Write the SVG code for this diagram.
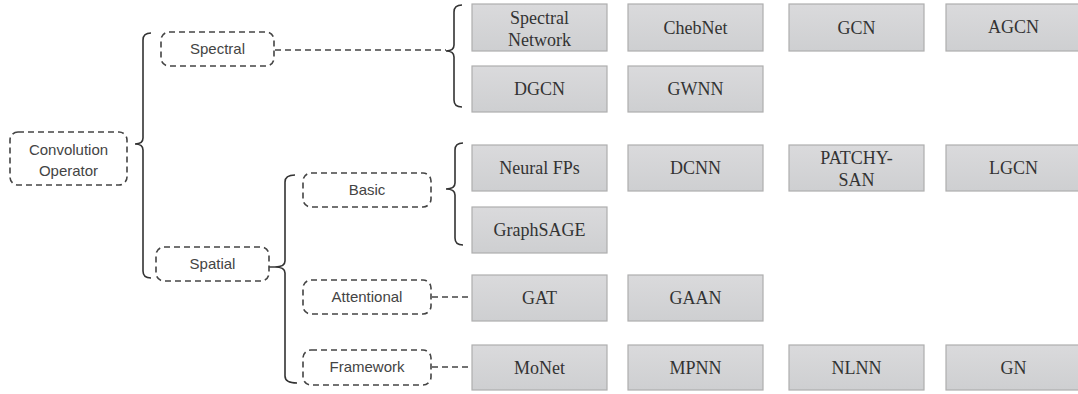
<svg xmlns="http://www.w3.org/2000/svg" width="1078" height="394" viewBox="0 0 1078 394">
  <defs>
    <linearGradient id="boxFill" x1="0" y1="0" x2="0" y2="1">
      <stop offset="0" stop-color="#dadadc"/>
      <stop offset="1" stop-color="#cecfd1"/>
    </linearGradient>
    <style>
      .cat { fill: none; stroke: #444; stroke-width: 1.6; stroke-dasharray: 6 4; }
      .cat-text { font-family: "Liberation Sans", Arial, sans-serif; font-size: 15px; fill: #444; text-anchor: middle; }
      .model { fill: url(#boxFill); stroke: #aeaeae; stroke-width: 1.2; }
      .model-text { font-family: "Liberation Serif", "Times New Roman", serif; font-size: 18px; fill: #333; text-anchor: middle; }
      .brace { fill: none; stroke: #333; stroke-width: 1.6; }
      .link { fill: none; stroke: #444; stroke-width: 1.6; stroke-dasharray: 6 4; }
    </style>
  </defs>
  <rect width="1078" height="394" fill="#fff"/>

  <!-- braces and dashed links -->
  <g id="connectors">
    <path class="brace" d="M151,33 Q143,33 143,40 L143,138 Q143,144 135,144 Q143,144 143,150 L143,271 Q143,278 151,278"/>
    <path class="brace" d="M462,5 Q454,5 454,12 L454,45 Q454,51 446,51 Q454,51 454,57 L454,100 Q454,107 462,107"/>
    <path class="brace" d="M295,175 Q285,175 285,182 L285,261 Q285,267 275,267 Q285,267 285,273 L285,376 Q285,383 297,383"/>
    <path class="brace" d="M463,143 Q455,143 455,150 L455,183 Q455,189 446,189 Q455,189 455,195 L455,238 Q455,245 463,245"/>
    <line class="link" x1="275" y1="50" x2="446" y2="50"/>
    <line class="link" x1="269" y1="267" x2="275" y2="267" stroke-dasharray="none"/>
    <line class="link" x1="432" y1="297" x2="472" y2="297"/>
    <line class="link" x1="432" y1="367" x2="472" y2="367"/>
  </g>

  <!-- category nodes -->
  <g id="convolution-operator">
    <rect class="cat" x="10" y="132" width="117" height="53" rx="8"/>
    <text class="cat-text" x="68.5" y="155">Convolution</text>
    <text class="cat-text" x="68.5" y="176">Operator</text>
  </g>
  <g id="spectral">
    <rect class="cat" x="161" y="32" width="113" height="34" rx="8"/>
    <text class="cat-text" x="217.5" y="54">Spectral</text>
  </g>
  <g id="spatial">
    <rect class="cat" x="156" y="247" width="113" height="34" rx="8"/>
    <text class="cat-text" x="212.5" y="269">Spatial</text>
  </g>
  <g id="basic">
    <rect class="cat" x="303" y="173" width="128" height="34" rx="8"/>
    <text class="cat-text" x="367" y="195">Basic</text>
  </g>
  <g id="attentional">
    <rect class="cat" x="303" y="280" width="128" height="34" rx="8"/>
    <text class="cat-text" x="367" y="302">Attentional</text>
  </g>
  <g id="framework">
    <rect class="cat" x="303" y="350" width="128" height="35" rx="8"/>
    <text class="cat-text" x="367" y="372">Framework</text>
  </g>

  <!-- spectral models -->
  <g id="spectral-network">
    <rect class="model" x="472" y="4" width="135" height="47"/>
    <text class="model-text" x="539.5" y="24">Spectral</text>
    <text class="model-text" x="539.5" y="46">Network</text>
  </g>
  <g id="chebnet">
    <rect class="model" x="628" y="4" width="135" height="47"/>
    <text class="model-text" x="695.5" y="34">ChebNet</text>
  </g>
  <g id="gcn">
    <rect class="model" x="789" y="4" width="135" height="47"/>
    <text class="model-text" x="856.5" y="34">GCN</text>
  </g>
  <g id="agcn">
    <rect class="model" x="946" y="4" width="135" height="47"/>
    <text class="model-text" x="1013.5" y="33">AGCN</text>
  </g>
  <g id="dgcn">
    <rect class="model" x="472" y="66" width="135" height="46"/>
    <text class="model-text" x="539.5" y="95">DGCN</text>
  </g>
  <g id="gwnn">
    <rect class="model" x="628" y="66" width="135" height="46"/>
    <text class="model-text" x="695.5" y="95">GWNN</text>
  </g>

  <!-- basic spatial models -->
  <g id="neural-fps">
    <rect class="model" x="472" y="145" width="135" height="46"/>
    <text class="model-text" x="539.5" y="174">Neural FPs</text>
  </g>
  <g id="dcnn">
    <rect class="model" x="628" y="145" width="135" height="46"/>
    <text class="model-text" x="695.5" y="174">DCNN</text>
  </g>
  <g id="patchy-san">
    <rect class="model" x="789" y="145" width="135" height="46"/>
    <text class="model-text" x="856.5" y="164">PATCHY-</text>
    <text class="model-text" x="856.5" y="186">SAN</text>
  </g>
  <g id="lgcn">
    <rect class="model" x="946" y="145" width="135" height="46"/>
    <text class="model-text" x="1013.5" y="174">LGCN</text>
  </g>
  <g id="graphsage">
    <rect class="model" x="472" y="207" width="135" height="46"/>
    <text class="model-text" x="539.5" y="236">GraphSAGE</text>
  </g>

  <!-- attentional models -->
  <g id="gat">
    <rect class="model" x="472" y="275" width="135" height="46"/>
    <text class="model-text" x="539.5" y="304">GAT</text>
  </g>
  <g id="gaan">
    <rect class="model" x="628" y="275" width="135" height="46"/>
    <text class="model-text" x="695.5" y="304">GAAN</text>
  </g>

  <!-- framework models -->
  <g id="monet">
    <rect class="model" x="472" y="345" width="135" height="45"/>
    <text class="model-text" x="539.5" y="374">MoNet</text>
  </g>
  <g id="mpnn">
    <rect class="model" x="628" y="345" width="135" height="45"/>
    <text class="model-text" x="695.5" y="374">MPNN</text>
  </g>
  <g id="nlnn">
    <rect class="model" x="789" y="345" width="135" height="45"/>
    <text class="model-text" x="856.5" y="374">NLNN</text>
  </g>
  <g id="gn">
    <rect class="model" x="946" y="345" width="135" height="45"/>
    <text class="model-text" x="1013.5" y="374">GN</text>
  </g>
</svg>
